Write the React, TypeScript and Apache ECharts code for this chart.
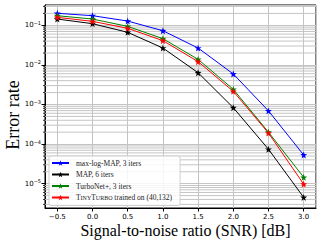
import React, { useEffect, useRef } from "react";
import * as echarts from "echarts";

const snr = [-0.5, 0.0, 0.5, 1.0, 1.5, 2.0, 2.5, 3.0];
const maxLogMap = [0.201, 0.175, 0.128, 0.073, 0.0267, 0.0059, 6.9e-4, 5.3e-5];
const map6 = [0.144, 0.11, 0.0665, 0.0267, 0.00635, 8.3e-4, 7.4e-5, 4.5e-6];
const turboNet = [0.175, 0.144, 0.094, 0.046, 0.0138, 0.00242, 2.0e-4, 1.45e-5];
const tinyTurbo = [0.159, 0.126, 0.084, 0.041, 0.0121, 0.00215, 1.9e-4, 9.7e-6];

const seriesNames = [
  "max-log-MAP, 3 iters",
  "MAP, 6 iters",
  "TurboNet+, 3 iters",
  "TinyTurbo trained on (40,132)",
];
const seriesColors = ["#0000ff", "#000000", "#008000", "#ff0000"];
const seriesValues = [maxLogMap, map6, turboNet, tinyTurbo];

const xMin = -0.675;
const xMax = 3.175;
const yMin = 2.43e-6;
const yMax = 0.326;
const minorMultipliers = [2, 3, 4, 5, 6, 7, 8, 9];
const decades = [-6, -5, -4, -3, -2, -1];

const STAR =
  "path://M0,-10 L2.35,-3.24 L9.51,-3.09 L3.8,1.24 L5.88,8.09 L0,4 L-5.88,8.09 L-3.8,1.24 L-9.51,-3.09 L-2.35,-3.24 Z";

export default function App() {
  const ref = useRef<HTMLDivElement>(null);
  useEffect(() => {
    if (!ref.current) return;
    const chart = echarts.init(ref.current, undefined, { renderer: "svg" });

    const minorVals: number[][] = [];
    decades.forEach((d) =>
      minorMultipliers.forEach((m) => {
        const v = m * Math.pow(10, d);
        if (v > yMin && v < yMax) minorVals.push([xMin, v]);
      })
    );

    const isPow = (v: number) => {
      const l = Math.log10(v);
      return Math.abs(l - Math.round(l)) < 1e-6;
    };

    const option: any = {
      animation: false,
      grid: {
        left: 45,
        right: 11,
        top: 5,
        bottom: 34,
        show: true,
        borderColor: "#000",
        borderWidth: 1,
        backgroundColor: "transparent",
      },
      xAxis: {
        type: "value",
        min: xMin,
        max: xMax,
        splitNumber: 7,
        axisLine: { onZero: false, lineStyle: { color: "#000", width: 1 } },
        axisTick: { show: true, length: 3.5, lineStyle: { color: "#000" } },
        axisLabel: {
          color: "#000",
          fontSize: 7,
          fontFamily: "DejaVu Sans",
          margin: 5,
          showMinLabel: false,
          showMaxLabel: false,
          formatter: (v: number) => {
            if (Math.abs(v * 2 - Math.round(v * 2)) > 1e-6) return "";
            return v.toFixed(1).replace("-", "\u2212");
          },
        },
        splitLine: { show: true, lineStyle: { color: "#c4c4c4", width: 1 } },
      },
      yAxis: {
        type: "log",
        logBase: 10,
        min: yMin,
        max: yMax,
        axisLine: { show: true, onZero: false, lineStyle: { color: "#000", width: 1 } },
        axisTick: { show: true, length: 3.5, lineStyle: { color: "#000" } },
        axisLabel: {
          color: "#000",
          margin: 4,
          showMinLabel: false,
          showMaxLabel: false,
          formatter: (v: number) => {
            if (!isPow(v)) return "";
            const e = Math.round(Math.log10(v));
            return `{b|10}{s|\u2212${-e}}`;
          },
          rich: {
            b: { fontSize: 7, fontFamily: "DejaVu Sans", color: "#000" },
            s: {
              fontSize: 5,
              fontFamily: "DejaVu Sans",
              color: "#000",
              verticalAlign: "bottom",
              padding: [0, 0, 5, 0],
            },
          },
        },
        splitLine: { show: true, lineStyle: { color: "#c4c4c4", width: 1 } },
      },
      legend: {
        data: seriesNames,
        orient: "vertical",
        left: 49,
        top: 156,
        padding: [3, 8, 4, 2],
        itemGap: 3.5,
        itemWidth: 17,
        itemHeight: 7,
        backgroundColor: "rgba(255,255,255,0.85)",
        borderColor: "#d0d0d0",
        borderWidth: 1,
        borderRadius: 2,
        textStyle: {
          fontFamily: "Liberation Serif",
          fontSize: 7.5,
          color: "#222",
          lineHeight: 8,
          padding: [0, 0, 0, 2],
          rich: {
            big: { fontFamily: "Liberation Serif", fontSize: 7.5, color: "#222" },
            sm: { fontFamily: "Liberation Serif", fontSize: 6, color: "#222" },
          },
        },
        formatter: (name: string) => {
          if (name.startsWith("TinyTurbo")) {
            return "{big|T}{sm|INY}{big|T}{sm|URBO}{big| trained on (40,132)}";
          }
          return name;
        },
      },
      series: [
        {
          type: "custom",
          silent: true,
          z: 1,
          clip: false,
          data: minorVals,
          renderItem: (params: any, api: any) => {
            const v = api.value(1);
            const p1 = api.coord([xMin, v]);
            const p2 = api.coord([xMax, v]);
            return {
              type: "group",
              children: [
                {
                  type: "line",
                  shape: { x1: p1[0], y1: p1[1], x2: p2[0], y2: p2[1] },
                  style: { stroke: "#c4c4c4", lineWidth: 1 },
                },
                {
                  type: "line",
                  shape: { x1: p1[0] - 2, y1: p1[1], x2: p1[0], y2: p1[1] },
                  style: { stroke: "#000", lineWidth: 0.8 },
                },
              ],
            };
          },
        },
        ...seriesNames.map((name, i) => ({
          name,
          type: "line",
          z: 3,
          data: snr.map((x, j) => [x, seriesValues[i][j]]),
          symbol: STAR,
          symbolSize: 7,
          showSymbol: true,
          lineStyle: { color: seriesColors[i], width: 1 },
          itemStyle: { color: seriesColors[i] },
        })),
      ],
      graphic: [
        {
          type: "text",
          x: 13,
          y: 115,
          rotation: Math.PI / 2,
          style: {
            text: "Error rate",
            font: '18px "Liberation Serif"',
            fill: "#000",
            align: "center",
            verticalAlign: "middle",
          },
        },
        {
          type: "text",
          x: 185.5,
          y: 230,
          style: {
            text: "Signal-to-noise ratio (SNR) [dB]",
            font: '16px "Liberation Serif"',
            fill: "#000",
            align: "center",
            verticalAlign: "middle",
          },
        },
      ],
    };
    chart.setOption(option);
    return () => chart.dispose();
  }, []);
  return <div ref={ref} style={{ width: 327, height: 242, position: "absolute", left: 0, top: 0 }} />;
}
